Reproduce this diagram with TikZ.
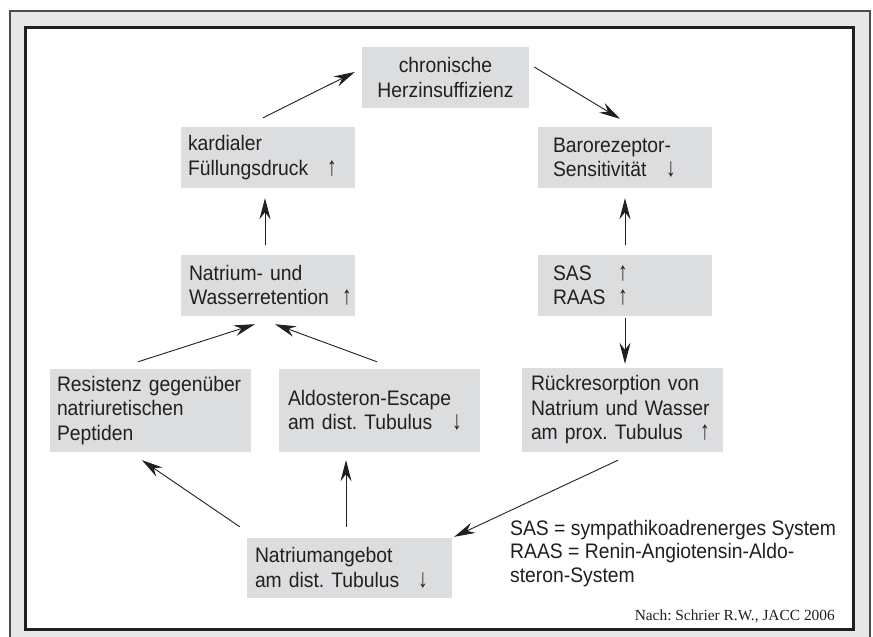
\documentclass[tikz,border=0pt]{standalone}
\usepackage{fontspec}
\usepackage{graphicx}
\setmainfont{Liberation Sans}[FakeStretch=0.92]
\newfontfamily\notefont{Liberation Serif}
\usetikzlibrary{arrows.meta}
\definecolor{boxgray}{RGB}{220,221,223}
\definecolor{framegray}{RGB}{230,231,232}
\definecolor{ink}{RGB}{35,31,32}
\newcommand\arrglyph[1]{\makebox[0pt]{\scalebox{1}[1.25]{#1}}}
\newcommand\uparr[1]{\hfill\arrglyph{↑}\hspace*{#1}\null}
\newcommand\dnarr[1]{\hfill\arrglyph{↓}\hspace*{#1}\null}
\frenchspacing
\begin{document}
\begin{tikzpicture}[x=1pt,y=-1pt,
  box/.style={fill=boxgray, inner xsep=0pt, inner ysep=0pt, align=left, text=ink,
    font=\fontsize{21}{24.5}\selectfont\frenchspacing},
  conn/.style={draw=ink, line width=0.9pt, -{Stealth[length=21pt,width=11pt,inset=7pt]}},
  legendtext/.style={inner sep=0pt, align=left, text=ink, font=\fontsize{21}{23.5}\selectfont},
  notetext/.style={inner sep=0pt, text=ink, font=\notefont\fontsize{15.4}{18}\selectfont\frenchspacing}]
\useasboundingbox (0,0) rectangle (873,637);
\fill[white] (0,0) rectangle (873,637);
\begin{scope}
  \clip (0,0) rectangle (873,637);
  \draw[fill=framegray, draw=black!70, line width=1.2pt] (10,11) rectangle (870,660);
  \draw[fill=white, draw=ink, line width=3pt] (25.5,27.5) rectangle (853.5,629.5);
\end{scope}

% boxes
\node[box, align=center, text width=167pt, minimum height=61pt] (chr) at (445.5,77.5)
  {chronische\\Herzinsuffizienz};
\node[box, text width=174pt, minimum height=61pt] (kard) at (268,157.5)
  {\hspace*{7pt}kardialer\\\hspace*{7pt}Füllungsdruck\uparr{23pt}};
\node[box, text width=174pt, minimum height=61pt] (baro) at (625,157.5)
  {\hspace*{15pt}Barorezeptor-\\\hspace*{15pt}Sensitivität\dnarr{41pt}};
\node[box, text width=174pt, minimum height=61pt] (nawa) at (268,285.5)
  {\hspace*{8pt}Natrium- und\\\hspace*{8pt}Wasserretention\uparr{8pt}};
\node[box, text width=174pt, minimum height=61pt] (sas) at (625,285.5)
  {\hspace*{15pt}SAS\uparr{89pt}\\\hspace*{15pt}RAAS\uparr{89pt}};
\node[box, text width=201pt, minimum height=84pt] (rueck) at (622.5,410)
  {\hspace*{9pt}Rückresorption von\\\hspace*{9pt}Natrium und Wasser\\\hspace*{9pt}am prox. Tubulus\uparr{18pt}};
\node[box, text width=201pt, minimum height=83pt] (resist) at (150.5,410.5)
  {\hspace*{7pt}Resistenz gegenüber\\\hspace*{7pt}natriuretischen\\\hspace*{7pt}Peptiden};
\node[box, text width=201pt, minimum height=83pt] (aldo) at (379.5,410.5)
  {\hspace*{9pt}Aldosteron-Escape\\\hspace*{9pt}am dist. Tubulus\dnarr{23pt}};
\node[box, text width=205pt, minimum height=60pt] (nang) at (349.5,568)
  {\hspace*{8pt}Natriumangebot\\\hspace*{8pt}am dist. Tubulus\dnarr{29pt}};

% legend and source
\node[legendtext, anchor=north west] (legend) at (510,520)
  {SAS = sympathikoadrenerges System\\RAAS = Renin-Angiotensin-Aldo-\\steron-System};
\node[notetext, anchor=base east] (source) at (835,620) {Nach: Schrier R.W., JACC 2006};

% connectors
\draw[conn] ([shift={(-5,-9)}]kard.north) -- ([shift={(-7,-5.5)}]chr.west);
\draw[conn] ([shift={(5,-10.5)}]chr.east) -- ([shift={(-5,-8)}]baro.north);
\draw[conn] ([shift={(-3,-10)}]nawa.north) -- ([shift={(-3,10)}]kard.south);
\draw[conn] ([shift={(0,-10)}]sas.north) -- ([shift={(0,10)}]baro.south);
\draw[conn] ([shift={(0,2)}]sas.south) -- ([shift={(2.5,-4)}]rueck.north);
\draw[conn] ([shift={(-12.5,-7)}]resist.north) -- ([shift={(-13,8)}]nawa.south);
\draw[conn] ([shift={(-2.5,-7)}]aldo.north) -- ([shift={(7,8)}]nawa.south);
\draw[conn] ([shift={(-7,-11)}]nang.north west) -- ([shift={(-8.5,8)}]resist.south);
\draw[conn] ([shift={(-3.5,-11)}]nang.north) -- ([shift={(-33.5,8)}]aldo.south);
\draw[conn] ([shift={(-4.5,8)}]rueck.south) -- ([shift={(2,-1)}]nang.north east);
\end{tikzpicture}
\end{document}
